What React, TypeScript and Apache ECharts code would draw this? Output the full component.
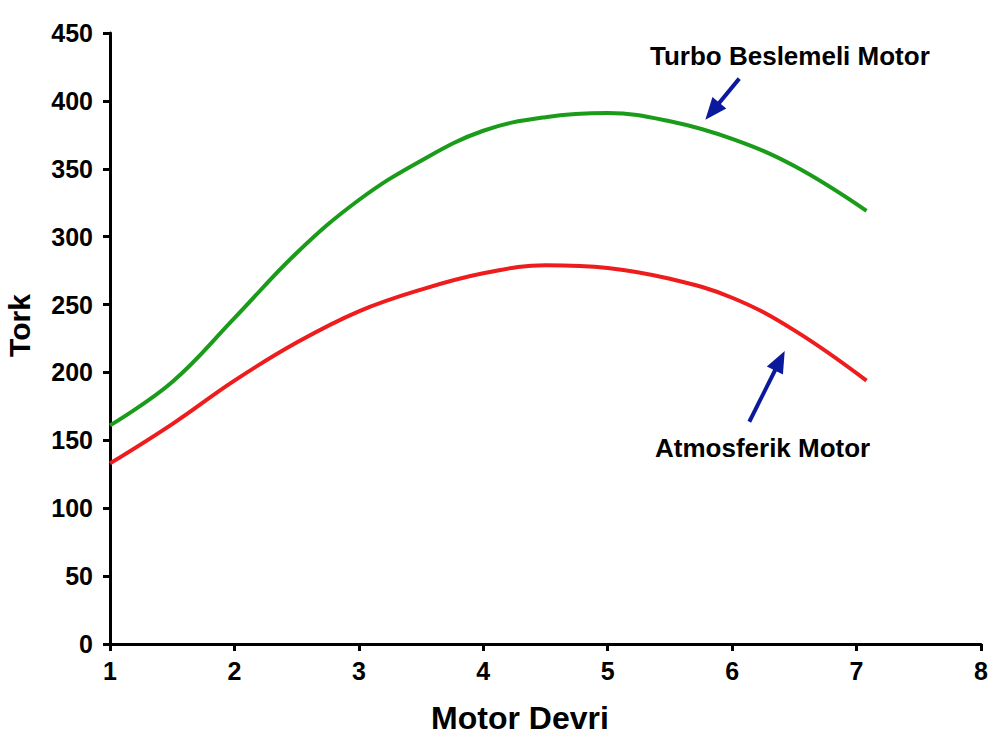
import React, { useEffect, useRef } from "react";
import * as echarts from "echarts";

const motorDevri = [1, 1.5, 2, 2.5, 3, 3.5, 4, 4.5, 5, 5.5, 6, 6.5, 7.08];
const turboTork = [161, 193, 240, 288, 327, 356, 378, 388, 391, 385, 372, 352, 319];
const atmoTork = [133, 162, 194, 222, 245, 261, 273, 279, 277, 269, 255, 231, 194];

const turboArrow = [[6.057, 416.4], [5.841, 392.4]];
const atmoArrow = [[6.138, 163.7], [6.383, 208.6]];

const turboLabel = "Turbo Beslemeli Motor";
const atmoLabel = "Atmosferik Motor";
const xName = "Motor Devri";
const yName = "Tork";

const FONT = "'Liberation Sans', Arial, Helvetica, sans-serif";
const GREEN = "#1a9c1a";
const RED = "#ee1c1c";
const BLUE = "#0b1a9c";

function arrowMarkLine(pts: number[][]) {
  return {
    silent: true,
    animation: false,
    symbol: ["none", "triangle"],
    symbolSize: [18, 22],
    label: { show: false },
    emphasis: { disabled: true },
    lineStyle: { color: BLUE, width: 4, type: "solid" },
    data: [[{ coord: pts[0] }, { coord: pts[1] }]],
  };
}

export default function App() {
  const ref = useRef<HTMLDivElement>(null);
  useEffect(() => {
    document.body.style.margin = "0";
    const chart = echarts.init(ref.current!, null, { renderer: "svg" });
    const axisLine = { show: true, lineStyle: { color: "#000", width: 3 } };
    const axisTick = { show: true, length: 7, lineStyle: { color: "#000", width: 3 } };
    chart.setOption({
      animation: false,
      backgroundColor: "#fff",
      grid: { left: 110, right: 19, top: 33, bottom: 106, containLabel: false, outerBoundsMode: "none" },
      xAxis: {
        type: "value",
        min: 1,
        max: 8,
        interval: 1,
        axisLine,
        axisTick,
        splitLine: { show: false },
        axisLabel: { color: "#000", fontFamily: FONT, fontWeight: "bold", fontSize: 25, margin: 14 },
        name: xName,
        nameLocation: "middle",
        nameGap: 58,
        nameTextStyle: { color: "#000", fontFamily: FONT, fontWeight: "bold", fontSize: 32, padding: [0, 51, 0, 0] },
      },
      yAxis: {
        type: "value",
        min: 0,
        max: 450,
        interval: 50,
        axisLine,
        axisTick,
        splitLine: { show: false },
        axisLabel: { color: "#000", fontFamily: FONT, fontWeight: "bold", fontSize: 25, margin: 17 },
        name: yName,
        nameLocation: "middle",
        nameRotate: 90,
        nameGap: 76,
        nameTextStyle: { color: "#000", fontFamily: FONT, fontWeight: "bold", fontSize: 30, padding: [0, 0, 0, 26] },
      },
      series: [
        {
          type: "line",
          name: turboLabel,
          data: motorDevri.map((x, i) => [x, turboTork[i]]),
          smooth: 0.4,
          showSymbol: false,
          lineStyle: { color: GREEN, width: 4 },
          itemStyle: { color: GREEN },
          markLine: arrowMarkLine(turboArrow),
        },
        {
          type: "line",
          name: atmoLabel,
          data: motorDevri.map((x, i) => [x, atmoTork[i]]),
          smooth: 0.4,
          showSymbol: false,
          lineStyle: { color: RED, width: 4 },
          itemStyle: { color: RED },
          markLine: arrowMarkLine(atmoArrow),
        },
      ],
      graphic: [
        {
          type: "text",
          x: 650,
          y: 56,
          style: { text: turboLabel, fill: "#000", font: `bold 26px ${FONT}`, textVerticalAlign: "middle", verticalAlign: "middle" },
        },
        {
          type: "text",
          x: 655,
          y: 448,
          style: { text: atmoLabel, fill: "#000", font: `bold 26px ${FONT}`, textVerticalAlign: "middle", verticalAlign: "middle" },
        },
      ],
    });
    return () => chart.dispose();
  }, []);
  return <div ref={ref} style={{ position: "absolute", left: 0, top: 0, width: 1000, height: 750 }} />;
}
